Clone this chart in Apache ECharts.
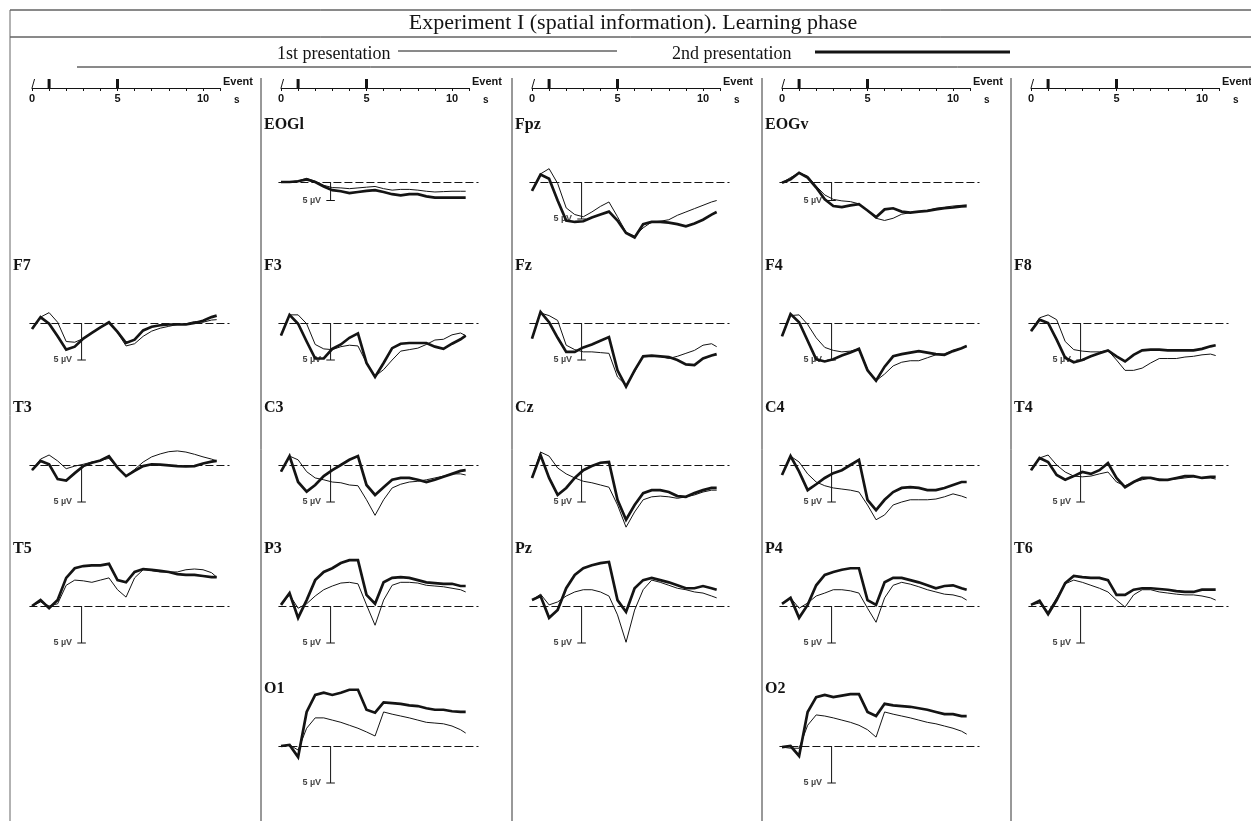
<!DOCTYPE html>
<html><head><meta charset="utf-8">
<script src="https://cdn.jsdelivr.net/npm/echarts@6/dist/echarts.min.js"></script>
<style>html,body{margin:0;padding:0;background:#fff}#c{width:1251px;height:821px}</style>
</head><body><div id="c"></div>
<script>
// ---------- DATA ----------
const times = [0,0.5,1,1.5,2,2.5,3,3.5,4,4.5,5,5.5,6,6.5,7,7.5,8,8.5,9,9.5,10,10.5,10.8];
const eventTimes = [1, 5];
const eventTickValues = [0,1,2,3,4,5,6,7,8,9,10,11];
const eventLabelValues = [0,5,10];
const scaleBarTime = 2.9;
const scaleBarUV = 5;

const EOGl_1st = [0,0,-0.3,-1.0,-0.2,0.9,1.5,1.6,1.8,1.6,1.4,1.2,1.8,2.2,2.0,2.0,2.2,2.5,2.7,2.6,2.5,2.5,2.5];
const EOGl_2nd = [0,0,-0.2,-0.7,0,1.2,2.2,2.5,3.0,2.7,2.4,2.2,2.7,3.3,3.6,3.3,3.3,3.9,4.2,4.2,4.2,4.2,4.2];
const Fpz_1st  = [1.2,-1.1,-1.8,0.2,3.5,4.4,4.7,4.05,3.3,2.7,4.7,6.8,7.3,6.2,5.4,5.3,5.1,4.5,4.05,3.6,3.15,2.7,2.5];
const Fpz_2nd  = [1.2,-1.0,-0.45,2.5,5.2,5.4,5.3,4.8,4.4,4.0,5.2,6.9,7.5,5.7,5.4,5.4,5.5,5.7,6.0,5.6,5.1,4.4,4.05];
const EOGv_1st = [0.2,-1.2,-2.5,-1.6,1.1,3.5,4.7,5.1,5.3,5.9,7.8,9.8,10.4,9.8,8.7,8.3,8.0,7.7,7.1,6.8,6.5,6.3,6.2];
const EOGv_2nd = [0.2,-0.7,-2.5,-1.2,1.5,4.7,6.5,6.8,6.3,6.0,7.7,9.5,7.4,7.1,8.0,8.3,8.0,7.8,7.4,7.1,6.9,6.6,6.5];
const F7_1st = [0.8,-0.8,-1.4,-0.1,2.5,2.6,2.1,1.35,0.6,0,1.3,3.1,2.8,1.8,1.1,0.7,0.45,0.2,0.1,-0.2,-0.1,-0.4,-0.45];
const F7_2nd = [0.8,-0.8,0.1,1.8,3.6,3.2,2.1,1.35,0.6,-0.1,1.2,2.7,2.25,1.0,0.5,0.3,0.2,0.2,0.2,0,-0.3,-0.8,-1.0];
const F3_1st = [1.7,-1.1,-1.1,0.1,2.9,3.5,3.6,3.2,3.0,3.1,5.4,7.2,6.3,5.0,3.8,3.6,3.4,2.9,2.3,2.2,1.6,1.35,1.7];
const F3_2nd = [1.7,-1.1,0.1,2.5,4.8,4.8,3.5,2.9,2.0,1.4,5.4,7.3,5.4,3.4,2.8,2.7,2.7,2.7,3.2,3.5,2.8,2.2,1.7];
const Fz_1st = [2.1,-1.35,-1.0,-0.35,3.0,3.6,3.9,3.9,4.0,4.1,7.3,8.4,6.6,4.5,4.4,4.5,4.8,4.5,4.1,3.7,3.0,2.8,3.2];
const Fz_2nd = [2.1,-1.5,-0.1,2.0,3.9,3.9,3.3,2.9,2.4,1.9,6.4,8.6,6.4,4.5,4.4,4.5,4.6,5.0,5.6,5.7,4.8,4.4,4.2];
const F4_1st = [1.8,-1.0,-1.1,0.2,2.0,3.3,3.7,3.9,3.8,3.5,6.2,7.8,6.9,5.8,5.3,5.1,5.1,4.7,4.3,4.2,3.7,3.4,3.1];
const F4_2nd = [1.8,-1.2,-0.1,2.4,4.9,5.2,4.9,4.4,4.0,3.5,6.4,7.8,5.9,4.5,4.2,4.0,3.8,4.0,4.2,4.3,3.8,3.4,3.1];
const F8_1st = [1.1,-0.7,-1.1,-0.45,2.5,3.6,3.8,3.9,3.9,3.7,5.0,6.4,6.4,6.1,5.4,4.8,4.8,4.8,4.6,4.5,4.3,4.2,4.4];
const F8_2nd = [1.1,-0.45,0,2.25,4.7,5.3,5.0,4.5,4.1,3.7,4.5,5.2,4.3,3.7,3.6,3.6,3.7,3.7,3.7,3.7,3.5,3.15,3.0];
const T3_1st = [0.7,-0.8,-1.35,-0.55,0.5,0.15,-0.1,-0.4,-0.6,-0.9,0.35,1.5,0.6,-0.4,-1.1,-1.5,-1.8,-1.9,-1.75,-1.45,-1.1,-0.8,-0.55];
const T3_2nd = [0.7,-0.55,-0.1,1.9,2.1,1.1,0.15,-0.3,-0.6,-1.2,0.35,1.5,0.8,0.15,-0.1,-0.05,0.05,0.15,0.2,0.15,-0.2,-0.45,-0.55];
const C3_1st = [0.9,-1.2,-0.7,0.9,1.75,2.0,2.3,2.4,2.7,2.8,4.7,6.8,4.7,3.1,2.6,2.3,2.2,2.0,1.75,1.5,1.2,1.2,1.35];
const C3_2nd = [0.9,-1.2,2.3,3.6,2.7,1.5,0.7,0,-0.7,-1.2,2.7,4.05,3.0,2.0,1.75,1.75,2.0,2.3,2.0,1.6,1.2,0.8,0.7];
const Cz_1st = [1.75,-1.75,-1.2,0.4,1.2,1.75,2.2,2.4,2.7,3.0,5.4,8.4,6.35,4.7,4.3,4.2,4.3,4.5,4.3,4.05,3.65,3.4,3.4];
const Cz_2nd = [1.75,-1.35,1.75,4.05,3.1,1.75,0.7,0.15,-0.3,-0.4,4.7,7.4,5.4,3.8,3.4,3.4,3.65,4.2,4.3,3.8,3.4,3.1,3.1];
const C4_1st = [1.35,-1.2,-0.4,1.2,2.3,2.8,3.1,3.25,3.4,3.65,5.4,7.4,6.75,5.4,5.0,4.7,4.7,4.7,4.6,4.3,3.9,4.2,4.45];
const C4_2nd = [1.35,-1.2,0.9,3.4,2.6,1.75,1.1,0.7,0,-0.7,4.7,6.1,4.7,3.65,3.1,3.0,3.1,3.4,3.4,3.1,2.7,2.3,2.3];
const T4_1st = [0.7,-0.95,-1.35,0,0.95,1.5,1.6,1.5,1.2,0.95,2.3,2.8,2.3,2.0,1.75,1.9,2.0,1.9,1.75,1.6,1.75,1.75,1.9];
const T4_2nd = [0.7,-0.95,-0.4,1.35,2.0,1.5,0.95,1.2,0.7,-0.25,1.75,3.0,2.3,1.75,1.75,2.0,2.0,1.75,1.5,1.5,1.75,1.6,1.6];
const T5_1st = [0,-0.55,0,-0.3,-2.8,-3.5,-3.4,-3.2,-3.5,-3.8,-2.2,-1.2,-3.8,-4.9,-4.75,-4.6,-4.6,-4.6,-4.9,-5.0,-4.9,-4.5,-3.9];
const T5_2nd = [0,-0.8,0.3,-0.8,-3.8,-5.1,-5.4,-5.5,-5.5,-5.7,-3.5,-3.2,-4.6,-5.0,-4.9,-4.75,-4.6,-4.3,-4.2,-4.2,-4.05,-3.9,-3.9];
const P3_1st = [-0.15,-1.5,0.3,-0.3,-1.35,-2.2,-2.7,-3.1,-3.2,-3.0,-0.15,2.6,-0.8,-2.8,-3.2,-3.2,-3.1,-2.8,-2.7,-2.6,-2.4,-2.2,-1.9];
const P3_2nd = [-0.15,-1.75,1.6,-0.8,-3.5,-4.6,-5.1,-5.8,-6.2,-6.2,-1.5,-0.3,-3.2,-3.8,-3.9,-3.8,-3.5,-3.2,-3.1,-3.0,-3.0,-2.7,-2.7];
const Pz_1st = [-0.8,-1.6,-0.15,-0.55,-1.35,-1.9,-2.2,-2.2,-1.9,-1.35,1.2,4.9,0.55,-2.2,-3.5,-3.2,-2.8,-2.4,-2.2,-1.9,-1.75,-1.35,-1.1];
const Pz_2nd = [-0.8,-1.35,1.6,0.55,-2.4,-4.2,-5.1,-5.5,-5.8,-5.95,-0.8,0.8,-2.4,-3.5,-3.8,-3.5,-3.2,-2.8,-2.4,-2.4,-2.7,-2.4,-2.2];
const P4_1st = [-0.3,-1.1,0.3,-0.4,-1.35,-1.75,-2.2,-2.2,-2.05,-1.75,0.3,2.2,-1.1,-2.8,-3.2,-2.95,-2.6,-2.2,-1.9,-1.6,-1.5,-1.2,-0.8];
const P4_2nd = [-0.3,-1.1,1.6,-0.15,-2.8,-4.2,-4.6,-4.9,-5.1,-5.1,-0.8,-0.15,-3.2,-3.8,-3.8,-3.5,-3.2,-2.8,-2.4,-2.7,-2.8,-2.4,-2.2];
const T6_1st = [-0.15,-0.4,0.8,-1.1,-3.0,-3.5,-3.2,-2.8,-2.4,-1.9,-0.8,0.15,-1.5,-2.2,-2.2,-1.9,-1.75,-1.6,-1.5,-1.5,-1.35,-1.1,-0.8];
const T6_2nd = [-0.15,-0.7,1.1,-0.8,-3.1,-4.05,-3.9,-3.8,-3.8,-3.5,-1.5,-1.5,-2.2,-2.4,-2.4,-2.3,-2.2,-2.0,-1.9,-1.9,-2.2,-2.2,-2.2];
const O1_1st = [0,-0.15,0.55,-2.4,-3.8,-3.8,-3.5,-3.2,-2.8,-2.4,-1.9,-1.35,-4.6,-4.3,-4.05,-3.8,-3.5,-3.2,-3.1,-3.0,-2.7,-2.2,-1.75];
const O1_2nd = [0,-0.15,1.5,-4.6,-6.9,-7.2,-6.9,-7.2,-7.6,-7.6,-4.9,-4.5,-5.9,-5.8,-5.7,-5.5,-5.4,-5.1,-4.9,-4.9,-4.7,-4.6,-4.6];
const O2_1st = [0.15,0.3,0.3,-2.8,-4.2,-4.05,-3.8,-3.5,-3.2,-2.8,-2.2,-1.2,-4.6,-4.3,-4.05,-3.8,-3.5,-3.2,-3.0,-2.7,-2.4,-2.0,-1.6];
const O2_2nd = [0.15,0,1.35,-4.6,-6.6,-6.9,-6.6,-6.8,-7.0,-7.0,-4.6,-4.05,-5.7,-5.5,-5.4,-5.3,-5.1,-4.9,-4.6,-4.3,-4.3,-4.05,-4.05];

// ---------- LAYOUT ----------
const colX0 = [32, 281, 532, 782, 1031];
const colLeft = [10, 261, 512, 762, 1011];
const rowBase = [182, 323, 465, 606, 746];
const PXS = 17.1, PXUV = 7.4;
const XMIN = -0.15, XMAX = 11.55, YMIN = -9, YMAX = 11;

const panels = [
  ['EOGl',1,0,EOGl_1st,EOGl_2nd,0.5], ['Fpz',2,0,Fpz_1st,Fpz_2nd,1], ['EOGv',3,0,EOGv_1st,EOGv_2nd,0.5],
  ['F7',0,1,F7_1st,F7_2nd,1], ['F3',1,1,F3_1st,F3_2nd,1], ['Fz',2,1,Fz_1st,Fz_2nd,1], ['F4',3,1,F4_1st,F4_2nd,1], ['F8',4,1,F8_1st,F8_2nd,1],
  ['T3',0,2,T3_1st,T3_2nd,1], ['C3',1,2,C3_1st,C3_2nd,1], ['Cz',2,2,Cz_1st,Cz_2nd,1], ['C4',3,2,C4_1st,C4_2nd,1], ['T4',4,2,T4_1st,T4_2nd,1],
  ['T5',0,3,T5_1st,T5_2nd,1], ['P3',1,3,P3_1st,P3_2nd,1], ['Pz',2,3,Pz_1st,Pz_2nd,1], ['P4',3,3,P4_1st,P4_2nd,1], ['T6',4,3,T6_1st,T6_2nd,1],
  ['O1',1,4,O1_1st,O1_2nd,1], ['O2',3,4,O2_1st,O2_2nd,1]
];

const INK = '#141414';
const SERIF = '"Liberation Serif","DejaVu Serif",serif';
const SANS = '"Liberation Sans","DejaVu Sans",sans-serif';

const grid = [], xAxis = [], yAxis = [], series = [], graphic = [];

panels.forEach((p, i) => {
  const [name, col, row, first, second, gain] = p;
  const x0 = colX0[col], base = rowBase[row];
  grid.push({left: x0 + XMIN * PXS, top: base + YMIN * PXUV, width: (XMAX - XMIN) * PXS, height: (YMAX - YMIN) * PXUV, outerBoundsMode: 'none', containLabel: false});
  xAxis.push({type: 'value', gridIndex: i, min: XMIN, max: XMAX, show: false});
  yAxis.push({type: 'value', gridIndex: i, min: YMIN / gain, max: YMAX / gain, inverse: true, show: false});
  const common = {type: 'line', xAxisIndex: i, yAxisIndex: i, symbol: 'none', silent: true, animation: false, clip: false};
  series.push(Object.assign({}, common, {
    name: name + ' 1st', data: times.map((t, k) => [t, first[k]]),
    lineStyle: {width: 1, color: INK},
    markLine: {symbol: 'none', silent: true, animation: false, label: {show: false},
      lineStyle: {type: [8, 3], width: 1, color: INK}, data: [{yAxis: 0}]}
  }));
  series.push(Object.assign({}, common, {
    name: name + ' 2nd', data: times.map((t, k) => [t, second[k]]),
    lineStyle: {width: 2.7, color: INK, join: 'miter'}
  }));
  // scale bar
  series.push(Object.assign({}, common, {
    data: [[scaleBarTime, 0], [scaleBarTime, scaleBarUV]], lineStyle: {width: 1, color: INK}
  }));
  series.push(Object.assign({}, common, {
    data: [[scaleBarTime - 0.25, scaleBarUV], [scaleBarTime + 0.25, scaleBarUV]], lineStyle: {width: 1, color: INK}
  }));
  series.push({type: 'scatter', xAxisIndex: i, yAxisIndex: i, silent: true, animation: false,
    data: [[scaleBarTime, scaleBarUV]], symbolSize: 1, itemStyle: {color: 'rgba(0,0,0,0)'},
    label: {show: true, position: 'left', distance: 9, formatter: '5 \u00b5V',
      fontFamily: SANS, fontWeight: 'bold', fontSize: 9, color: INK}});
  graphic.push({type: 'text', x: colLeft[col] + 3, y: base - 57, silent: true,
    style: {text: name, font: 'bold 16px ' + SERIF, fill: INK, verticalAlign: 'middle', textVerticalAlign: 'middle'}});
});

// event axes
const nP = panels.length;
colX0.forEach((x0, k) => {
  const gi = nP + k;
  grid.push({left: x0, top: 79, width: 11 * PXS, height: 9, outerBoundsMode: 'none', containLabel: false});
  xAxis.push({type: 'value', gridIndex: gi, min: 0, max: 11, interval: 1,
    axisLine: {show: true, lineStyle: {color: INK, width: 1.2}},
    axisTick: {show: true, length: 3, customValues: eventTickValues, lineStyle: {color: INK, width: 1}},
    axisLabel: {show: true, customValues: eventLabelValues, margin: 5, fontFamily: SANS, fontWeight: 'bold', fontSize: 11, color: INK},
    splitLine: {show: false}});
  yAxis.push({type: 'value', gridIndex: gi, min: 0, max: 1, show: false});
  eventTimes.forEach(t => {
    series.push({type: 'line', xAxisIndex: gi, yAxisIndex: gi, symbol: 'none', silent: true, animation: false,
      data: [[t, 0], [t, 1]], lineStyle: {width: 3, color: INK, cap: 'butt'}});
  });
  series.push({type: 'line', xAxisIndex: gi, yAxisIndex: gi, symbol: 'none', silent: true, animation: false,
    data: [[0, 0], [0.15, 1]], lineStyle: {width: 1, color: INK}});
  graphic.push({type: 'text', x: x0 + 191, y: 82, silent: true,
    style: {text: 'Event', font: 'bold 11px ' + SANS, fill: INK, verticalAlign: 'middle', textVerticalAlign: 'middle'}});
  graphic.push({type: 'text', x: x0 + 202, y: 100, silent: true,
    style: {text: 's', font: 'bold 10px ' + SANS, fill: INK, verticalAlign: 'middle', textVerticalAlign: 'middle'}});
});

// frame, title, legend
const L = (x1, y1, x2, y2, w, c) => ({type: 'line', silent: true, shape: {x1, y1, x2, y2}, style: {stroke: c || INK, lineWidth: w || 1}});
graphic.push(L(10, 10, 1251, 10, 1), L(10, 37, 1251, 37, 1), L(10, 10, 10, 821, 1, '#666'), L(77, 67, 1251, 67, 1));
colLeft.slice(1).forEach(x => graphic.push(L(x, 78, x, 821, 1, '#333')));
graphic.push({type: 'text', x: 633, y: 23, silent: true,
  style: {text: 'Experiment I (spatial information). Learning phase', font: '22px ' + SERIF, fill: INK,
    align: 'center', textAlign: 'center', verticalAlign: 'middle', textVerticalAlign: 'middle'}});
graphic.push({type: 'text', x: 277, y: 54, silent: true,
  style: {text: '1st presentation', font: '18px ' + SERIF, fill: INK, verticalAlign: 'middle', textVerticalAlign: 'middle'}});
graphic.push(L(398, 51, 617, 51, 1));
graphic.push({type: 'text', x: 672, y: 54, silent: true,
  style: {text: '2nd presentation', font: '18px ' + SERIF, fill: INK, verticalAlign: 'middle', textVerticalAlign: 'middle'}});
graphic.push(L(815, 52, 1010, 52, 3));

const chart = echarts.init(document.getElementById('c'), null, {renderer: 'canvas'});
chart.setOption({backgroundColor: '#fff', animation: false, grid, xAxis, yAxis, series, graphic});
</script>
</body></html>
